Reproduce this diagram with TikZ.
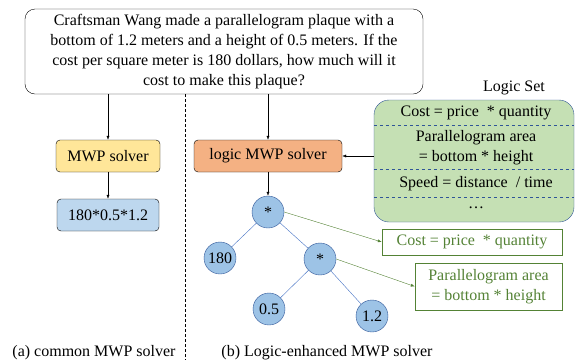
\documentclass[tikz,border=0pt]{standalone}
\usepackage{fontspec}
\setmainfont{Liberation Serif}
\usetikzlibrary{arrows.meta}

\definecolor{solveryellow}{RGB}{255,230,153}
\definecolor{exprblue}{RGB}{189,215,238}
\definecolor{solverorange}{RGB}{244,177,131}
\definecolor{setgreen}{RGB}{197,224,180}
\definecolor{setborder}{RGB}{47,85,151}
\definecolor{treefill}{RGB}{157,195,230}
\definecolor{treeedge}{RGB}{68,114,196}
\definecolor{rulegreen}{RGB}{84,130,53}

\begin{document}
\begin{tikzpicture}[x=1pt, y=-1pt,
    font=\fontsize{16}{20}\selectfont,
    solverbox/.style={draw, rounded corners=4pt, inner sep=0pt, minimum height=32pt},
    treenode/.style={circle, draw=setborder, fill=treefill, inner sep=0pt, minimum size=32pt},
    treeline/.style={treeedge},
    rulebox/.style={draw=rulegreen, text=rulegreen, align=center, inner sep=0pt},
    flow/.style={-{Latex[length=4pt,width=3pt]}},
    ruleflow/.style={rulegreen, -{Latex[length=4pt,width=3pt]}}]
    \useasboundingbox (0,0) rectangle (575,360);

    % the question on top
    \node[draw, rounded corners=10pt, minimum width=398pt, minimum height=85pt, align=center, inner sep=0pt] (q) at (224,51.5)
        {Craftsman Wang made a parallelogram plaque with a\\
         bottom of 1.2 meters and a height of 0.5 meters. If the\\
         cost per square meter is 180 dollars, how much will it\\
         cost to make this plaque?};

    % left side: plain solver
    \node[solverbox, fill=solveryellow, minimum width=104pt] (mwp) at (108,156) {MWP solver};
    \node[solverbox, fill=exprblue, minimum width=102pt] (expr) at (108,215) {180*0.5*1.2};
    \draw[flow] (mwp.north |- q.south) -- (mwp.north);
    \draw[flow] (mwp) -- (expr);

    % divider between the two halves
    \coordinate (cut) at (185,94);
    \draw[dash pattern=on 3pt off 2pt] (cut) -- (185,360);

    % right side: solver with the logic set
    \node[solverbox, fill=solverorange, minimum width=148pt] (lmwp) at (268,156) {logic MWP solver};
    \draw[flow] (lmwp.north |- q.south) -- (lmwp.north);

    \node (settitle) at (514,88) {Logic Set};
    \node[draw=setborder, fill=setgreen, rounded corners=15pt, minimum width=200pt, minimum height=122pt, inner sep=0pt] (lset) at (474,161) {};
    \draw[setborder, dashed] (lset.west |- 0,125) -- (lset.east |- 0,125);
    \draw[setborder, dashed] (lset.west |- 0,169) -- (lset.east |- 0,169);
    \draw[setborder, dashed] (lset.west |- 0,197) -- (lset.east |- 0,197);
    \node (r1) at (476,113) {Cost = price~ * quantity};
    \node[align=center] (r2) at (476,148) {Parallelogram area\\= bottom * height};
    \node (r3) at (476,184) {Speed = distance~ / time};
    \node (r4) at (476,208) {\dots};
    \draw[flow] (lset.west |- lmwp) -- (lmwp.east);

    % expression tree
    \node[treenode] (root) at (268,212) {*};
    \node[treenode] (n180) at (220,258) {180};
    \node[treenode] (mul) at (320,259) {*};
    \node[treenode] (n05) at (269,309) {0.5};
    \node[treenode] (n12) at (372,316) {1.2};
    \draw[flow] (lmwp) -- (root);
    \draw[treeline] (root) -- (n180);
    \draw[treeline] (root) -- (mul);
    \draw[treeline] (mul) -- (n05);
    \draw[treeline] (mul) -- (n12);

    % rules used by the tree
    \node[rulebox, minimum width=180pt, minimum height=26pt] (cost) at (472,242) {Cost = price~ * quantity};
    \node[rulebox, minimum width=147pt, minimum height=47pt] (area) at (488.5,286.5) {Parallelogram area\\= bottom * height};
    \draw[ruleflow] (root.east) -- (cost.west);
    \draw[ruleflow] (mul.east) -- (area.west);

    % captions
    \node[anchor=base] (capa) at (94,356) {(a) common MWP solver};
    \node[anchor=base] (capb) at (327,356) {(b) Logic-enhanced MWP solver};
\end{tikzpicture}
\end{document}
